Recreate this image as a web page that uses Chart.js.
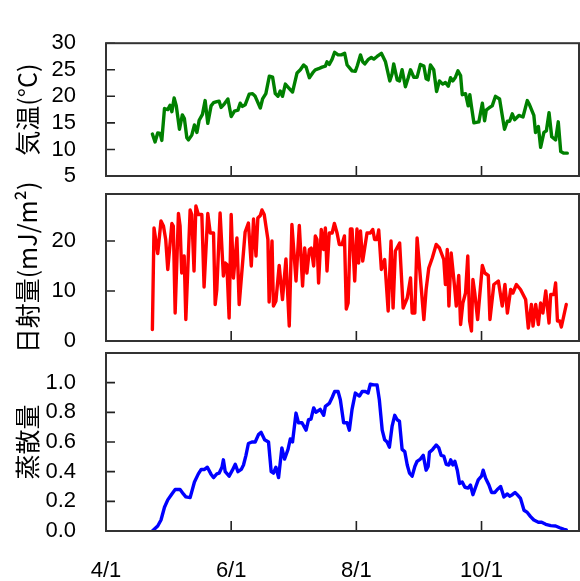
<!DOCTYPE html>
<html><head><meta charset="utf-8">
<script src="https://cdn.jsdelivr.net/npm/chart.js@4.4.1/dist/chart.umd.min.js"></script>
<style>
html,body{margin:0;padding:0;background:#fff;}
#wrap{position:relative;width:580px;height:581px;}
canvas{position:absolute;left:0;top:0;}
</style></head>
<body><div id="wrap">
<canvas id="c1" width="580" height="581"></canvas>
<canvas id="c2" width="580" height="581"></canvas>
<canvas id="c3" width="580" height="581"></canvas>
</div>
<script>
// x values are days since 4/1
const xTickDays = [0, 61, 122, 183];
const xTickLabels = ["4/1", "6/1", "8/1", "10/1"];

const tempDays = [22.6,23.9,25.2,26.4,27.2,28.5,30.1,31.2,32.1,33.2,34.2,35.8,37.2,38.2,39.4,40.2,41.8,43.1,44.3,45.4,47.0,48.3,49.6,51.2,52.4,54.0,55.1,56.1,57.7,59.4,61.0,62.6,64.3,65.4,66.5,67.8,69.8,71.4,72.7,75.2,76.3,77.9,79.6,81.2,82.5,83.8,84.9,86.0,87.4,89.0,90.9,93.1,94.7,96.3,97.5,99.1,100.7,102.0,103.6,105.3,106.9,107.7,108.8,110.2,111.4,113.1,114.7,116.3,117.5,118.6,119.9,121.5,122.5,124.0,125.1,126.1,127.7,129.3,130.5,132.1,134.2,136.2,138.3,139.4,140.2,141.9,143.0,144.3,145.9,147.2,148.4,150.0,151.6,153.2,154.9,156.0,157.0,158.1,159.7,161.1,162.5,164.1,165.4,166.8,167.9,169.0,170.3,171.5,172.8,173.6,175.2,176.5,177.3,178.1,179.3,181.7,183.4,184.5,185.3,186.9,188.2,189.8,191.8,193.1,194.2,195.6,196.7,198.0,199.1,201.2,203.2,205.3,206.4,208.5,209.3,210.7,211.8,213.4,214.6,215.9,217.2,219.1,220.4,221.6,223.1,224.8];
const tempVals = [12.9,11.4,13.1,13.0,11.7,17.7,17.5,18.3,17.1,19.7,18.3,13.8,16.5,15.8,12.2,11.8,12.7,14.6,13.2,15.5,16.6,19.2,14.9,18.2,18.8,19.0,19.1,17.9,18.6,19.5,16.2,17.2,17.4,18.7,18.1,18.4,20.4,20.5,20.0,17.8,19.5,20.5,23.8,23.6,20.5,20.0,21.0,20.0,22.3,21.6,20.8,24.4,25.0,25.9,25.5,23.5,24.4,25.0,25.2,25.5,25.7,26.5,26.0,27.0,28.3,27.8,27.8,28.1,25.9,25.4,24.8,24.7,25.8,27.8,26.5,26.1,26.9,27.3,27.0,27.5,28.1,26.5,22.9,24.2,26.1,23.1,22.9,25.0,21.8,23.4,25.0,23.6,23.6,26.0,25.7,23.3,23.1,25.9,25.0,20.9,22.9,22.3,22.6,21.9,23.5,22.9,23.6,24.8,23.9,20.3,20.5,18.2,20.3,18.1,15.0,15.2,18.7,15.4,17.4,17.9,18.2,20.0,19.5,16.4,13.8,15.3,15.3,16.7,15.6,16.4,16.1,19.2,18.4,16.4,13.2,14.3,10.4,13.2,13.5,16.9,12.4,11.8,15.2,9.6,9.3,9.3];

const solarDays = [22.6,23.4,25.2,26.8,28.0,29.1,30.1,32.1,32.8,33.7,35.3,36.1,36.9,38.1,38.9,41.0,41.8,42.9,43.8,45.0,46.7,47.8,49.6,50.8,52.4,53.2,54.0,55.6,57.2,58.1,58.9,60.0,61.0,62.1,63.8,64.9,67.8,69.4,70.8,71.9,73.1,74.0,75.2,76.0,77.1,78.9,79.5,80.9,81.6,82.8,84.4,86.0,87.7,89.3,90.6,92.6,94.2,95.8,96.8,97.9,99.1,100.0,101.2,102.0,102.8,103.6,104.9,106.1,106.9,107.7,108.8,110.2,111.3,112.6,113.7,115.0,116.2,117.1,118.0,119.1,119.9,121.2,122.3,123.1,124.0,125.1,127.2,128.8,130.0,130.9,132.1,132.9,134.2,135.8,137.5,138.9,139.9,141.0,143.1,144.8,146.8,148.4,149.2,150.5,151.6,154.9,156.0,157.3,159.0,160.9,162.5,164.6,165.4,166.3,167.1,168.2,170.0,170.7,171.9,172.8,173.9,175.2,176.3,177.2,178.1,178.8,179.7,181.1,183.4,184.6,186.3,187.1,189.0,191.2,193.1,194.4,195.6,197.2,198.3,200.0,202.0,204.5,205.8,207.3,208.1,209.4,210.7,211.8,212.9,214.3,215.9,216.7,218.3,219.1,220.0,221.1,221.9,224.3];
const solarVals = [2.3,22.6,17.5,24.0,23.0,20.3,14.3,23.5,23.0,5.6,25.5,23.0,13.6,17.0,4.3,26.2,25.3,14.0,27.0,25.3,25.3,10.8,25.5,21.6,21.6,7.3,10.3,25.6,13.0,15.6,15.3,4.6,25.3,12.6,20.6,7.3,21.8,23.6,15.0,24.4,17.0,24.6,25.1,26.2,25.3,20.3,7.8,20.0,7.0,8.0,15.1,8.3,16.4,3.0,23.3,12.0,23.1,11.0,18.6,13.6,18.3,18.6,15.0,21.0,20.3,11.6,22.3,18.3,22.6,14.0,21.6,21.6,23.5,21.6,19.3,19.3,21.0,6.4,7.6,22.4,22.4,12.0,22.4,15.6,22.0,16.0,21.6,21.6,22.3,20.3,20.3,22.2,14.3,16.3,6.0,20.0,6.6,18.0,19.6,6.6,8.6,12.6,5.6,5.6,20.6,4.3,10.3,14.6,16.6,19.3,18.6,16.3,11.3,18.3,7.0,17.6,10.3,7.0,13.1,3.3,7.6,9.6,17.0,4.0,2.0,12.3,9.6,4.3,15.1,13.6,13.1,4.3,11.3,12.0,7.0,11.3,5.6,10.3,9.6,11.3,10.3,8.3,2.6,7.3,3.0,7.3,3.3,7.6,5.6,10.0,3.6,9.3,9.3,11.6,4.0,4.0,2.8,7.3];

const evapDays = [22.6,25.2,26.8,28.5,30.1,32.1,33.7,36.1,37.7,38.9,41.0,43.1,45.0,46.4,48.0,49.4,51.1,52.4,54.0,55.1,56.5,57.2,58.1,60.0,61.6,63.0,64.3,65.9,67.0,68.2,69.4,71.1,72.7,74.3,75.6,77.3,79.2,80.5,81.6,82.8,84.1,85.7,87.0,88.7,89.8,90.9,92.6,93.8,95.5,97.5,98.7,99.9,101.2,102.3,104.4,106.1,106.9,108.8,110.2,111.4,113.1,114.2,115.8,117.5,118.6,119.9,121.5,123.5,124.8,126.4,127.7,128.8,130.5,132.1,133.2,134.6,135.8,137.0,138.1,139.4,140.7,141.9,143.0,144.3,145.6,146.8,147.9,149.2,150.5,151.6,153.2,154.6,156.0,157.0,157.6,159.2,160.9,162.2,163.3,164.6,165.8,167.1,168.0,169.0,170.0,171.2,172.3,173.6,174.9,176.5,177.6,178.8,180.1,181.4,183.0,183.8,185.0,186.6,187.9,189.5,190.7,192.3,193.9,195.6,196.7,198.0,199.3,200.4,202.0,203.7,205.3,206.9,208.5,210.7,212.3,214.3,216.7,219.1,221.1,223.2,224.3];
const evapVals = [0.0,0.034,0.074,0.16,0.21,0.25,0.28,0.28,0.25,0.23,0.225,0.33,0.385,0.415,0.415,0.43,0.385,0.36,0.385,0.39,0.43,0.48,0.40,0.37,0.41,0.45,0.40,0.415,0.445,0.51,0.59,0.60,0.60,0.65,0.665,0.615,0.60,0.40,0.39,0.43,0.36,0.56,0.485,0.55,0.62,0.60,0.795,0.73,0.73,0.68,0.75,0.755,0.83,0.80,0.82,0.78,0.84,0.86,0.90,0.94,0.94,0.885,0.73,0.73,0.68,0.82,0.93,0.91,0.94,0.94,0.93,0.99,0.985,0.985,0.885,0.68,0.615,0.60,0.565,0.705,0.78,0.75,0.74,0.55,0.535,0.445,0.39,0.37,0.435,0.47,0.485,0.51,0.41,0.435,0.53,0.55,0.58,0.56,0.51,0.505,0.45,0.445,0.48,0.445,0.47,0.41,0.32,0.33,0.295,0.29,0.31,0.245,0.295,0.345,0.37,0.41,0.355,0.31,0.26,0.26,0.28,0.30,0.23,0.25,0.235,0.245,0.26,0.245,0.22,0.14,0.125,0.097,0.074,0.059,0.059,0.045,0.036,0.034,0.022,0.011,0.007];

const tempTicks = [5, 10, 15, 20, 25, 30];
const solarTicks = [0, 10, 20];
const evapTicks = [0, 0.2, 0.4, 0.6, 0.8, 1.0];

const framePlugin = {
  id: 'frame',
  afterDraw(chart, args, opts) {
    const ctx = chart.ctx, a = chart.chartArea;
    const xs = chart.scales.x, ys = chart.scales.y;
    ctx.save();
    ctx.strokeStyle = '#222';
    ctx.lineWidth = 1.6;
    ctx.beginPath();
    opts.yTicks.forEach(v => {
      const p = ys.getPixelForValue(v);
      ctx.moveTo(a.left, p); ctx.lineTo(a.left + 9, p);
    });
    xTickDays.forEach(d => {
      const p = xs.getPixelForValue(d);
      ctx.moveTo(p, a.bottom); ctx.lineTo(p, a.bottom - 10);
    });
    ctx.stroke();
    ctx.lineWidth = 2;
    ctx.strokeStyle = '#333';
    ctx.strokeRect(a.left, a.top, a.right - a.left, a.bottom - a.top);
    ctx.restore();
  }
};

function makePanel(id, days, vals, color, yMin, yMax, yTicks, title, padTop, padBottom, showX, fmt) {
  const xScale = {
    type: 'linear', min: 0, max: 230.5, display: showX,
    afterBuildTicks: s => { s.ticks = xTickDays.map(v => ({ value: v })); },
    grid: { display: false, drawTicks: false }, border: { display: false },
    ticks: { autoSkip: false, maxRotation: 0, padding: 27, color: '#000',
      font: { family: 'Liberation Sans', size: 22 },
      callback: (v, i) => xTickLabels[i] }
  };
  if (showX) xScale.afterFit = s => { s.height = 50; };
  return new Chart(document.getElementById(id), {
    type: 'line',
    data: { datasets: [{
      data: days.map((d, i) => ({ x: d, y: vals[i] })),
      borderColor: color, borderWidth: 3.4, pointRadius: 0, tension: 0, fill: false,
      borderJoinStyle: 'round', borderCapStyle: 'round'
    }]},
    options: {
      responsive: false, animation: false, devicePixelRatio: 1,
      layout: { padding: { left: 0, right: 1, top: padTop, bottom: padBottom } },
      plugins: { legend: { display: false }, tooltip: { enabled: false }, frame: { yTicks: yTicks } },
      scales: {
        x: xScale,
        y: {
          type: 'linear', min: yMin, max: yMax,
          afterBuildTicks: s => { s.ticks = yTicks.map(v => ({ value: v })); },
          afterFit: s => { s.width = 106; },
          grid: { display: false, drawTicks: false }, border: { display: false },
          ticks: { autoSkip: false, padding: 30, color: '#000', font: { family: 'Liberation Sans', size: 22 },
            callback: v => fmt(v) },
          title: { display: true, text: title, color: '#000',
            font: { family: 'Noto Sans CJK JP', size: 25 }, padding: { top: 12, bottom: 0 } }
        }
      }
    },
    plugins: [framePlugin]
  });
}

makePanel('c1', tempDays, tempVals, '#008000', 5, 30, tempTicks, '気温(°C)', 16, 405, false, v => String(v));
makePanel('c2', solarDays, solarVals, '#ff0000', 0, 29.4, solarTicks, '日射量(mJ/m²)', 194, 240, false, v => String(v));
makePanel('c3', evapDays, evapVals, '#0000ff', 0, 1.2, evapTicks, '蒸散量', 353, 0, true, v => v.toFixed(1));
</script>
</body></html>
